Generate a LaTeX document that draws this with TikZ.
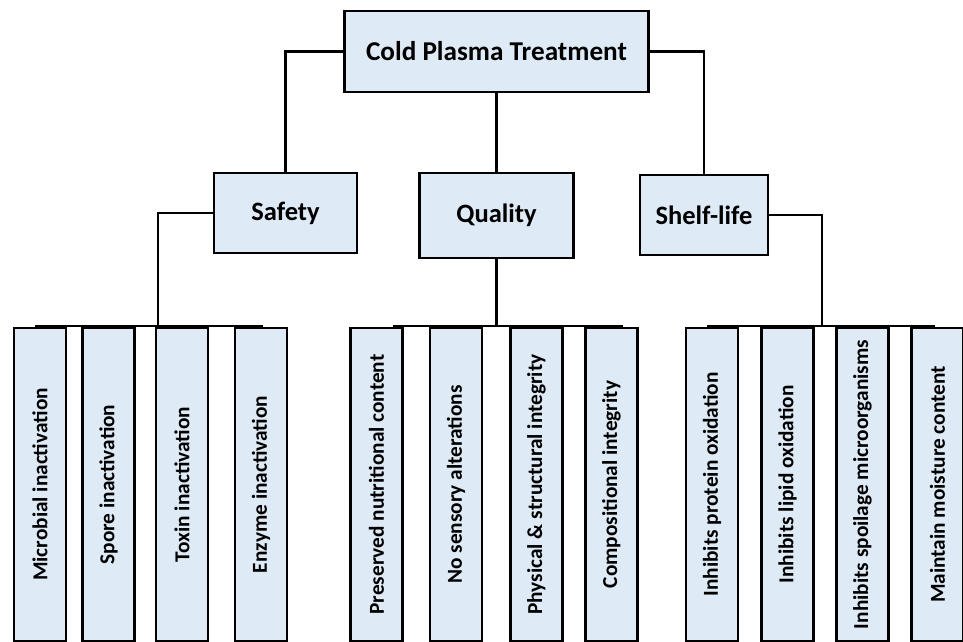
\documentclass[tikz,border=0pt]{standalone}
\usepackage{fontspec}
\setmainfont{Carlito}
\definecolor{boxfill}{HTML}{DEEAF6}
\begin{document}
\begin{tikzpicture}[x=1pt,y=-1pt,
  box/.style={draw=black,line width=2.6pt,fill=boxfill,inner sep=0pt,font=\bfseries},
  leaf/.style={box,rotate=90,minimum width=313pt,minimum height=52pt,font=\bfseries\fontsize{21.3}{24}\selectfont},
  mid/.style={box,font=\bfseries\fontsize{26.5}{30}\selectfont},
  conn/.style={draw=black,line width=2.4pt}]
\useasboundingbox (0,0) rectangle (963,642);
\node[box,minimum width=304pt,minimum height=81pt,font=\bfseries\fontsize{27.2}{30}\selectfont] (top) at (496.5,51.5) {Cold Plasma Treatment};
\node[mid,minimum width=143pt,minimum height=80pt] (safety) at (285.5,213) {Safety};
\node[mid,minimum width=154pt,minimum height=85pt] (quality) at (496.5,215.5) {Quality};
\node[mid,minimum width=128pt,minimum height=80pt] (shelf) at (704,215) {Shelf-life};
% leaves
\node[leaf] (s1) at (40,484.5) {Microbial inactivation};
\node[leaf] (s2) at (108.5,484.5) {Spore inactivation};
\node[leaf] (s3) at (182,484.5) {Toxin inactivation};
\node[leaf] (s4) at (261,484.5) {Enzyme inactivation};
\node[leaf] (q1) at (376.5,484.5) {Preserved nutritional content};
\node[leaf] (q2) at (456,484.5) {No sensory alterations};
\node[leaf] (q3) at (536.5,484.5) {Physical \& structural integrity};
\node[leaf] (q4) at (611.5,484.5) {Compositional integrity};
\node[leaf] (h1) at (712,484.5) {Inhibits protein oxidation};
\node[leaf] (h2) at (787.5,484.5) {Inhibits lipid oxidation};
\node[leaf] (h3) at (862.5,484.5) {Inhibits spoilage microorganisms};
\node[leaf] (h4) at (937.5,484.5) {Maintain moisture content};
% bars
\coordinate (sbL) at (35,326); \coordinate (sbR) at (263,326); \coordinate (sbM) at (158,326);
\coordinate (qbL) at (393,326); \coordinate (qbR) at (623,326); \coordinate (qbM) at (496.5,326);
\coordinate (hbL) at (707,326); \coordinate (hbR) at (935,326); \coordinate (hbM) at (822,326);
\draw[conn] (sbL) -- (sbR);
\draw[conn] (qbL) -- (qbR);
\draw[conn] (hbL) -- (hbR);
% connectors
\draw[conn] (top.west) -| (safety.north);
\draw[conn] (top.south) -- (quality.north);
\draw[conn] (top.east) -| (shelf.north);
\draw[conn] (safety.west) -| (sbM);
\draw[conn] (quality.south) -- (qbM);
\draw[conn] (shelf.east) -| (hbM);
\end{tikzpicture}
\end{document}
